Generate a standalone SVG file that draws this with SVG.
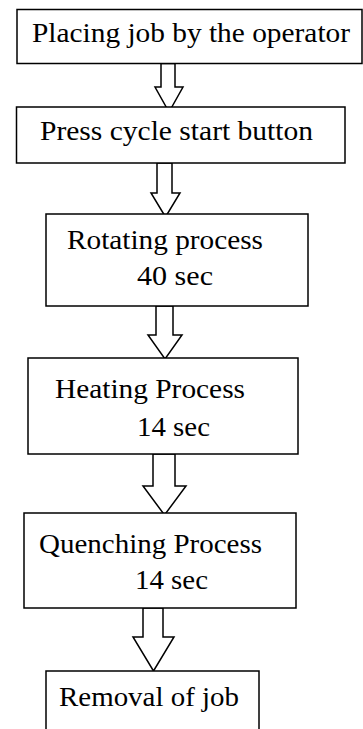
<svg xmlns="http://www.w3.org/2000/svg" width="363" height="729" viewBox="0 0 363 729">
<style>
.box{fill:#fff;stroke:#000;stroke-width:1.5}
.arr{fill:#fff;stroke:#000;stroke-width:1.5;stroke-linejoin:miter}
text{font-family:"Liberation Serif","Times New Roman",serif;font-size:28px;fill:#000}
</style>
<rect width="363" height="729" fill="#fff"/>
<g id="connectors">
<polygon class="arr" points="161,63.5 175,63.5 175,87 183,87 169,112 155,87 161,87"/>
<polygon class="arr" points="157,163 172,163 172,193 180,193 165.5,217 151,193 157,193"/>
<polygon class="arr" points="156,306 173,306 173,335 182,335 165,359 148,335 156,335"/>
<polygon class="arr" points="153,454 175,454 175,486 186,486 164.5,515 143,486 153,486"/>
<polygon class="arr" points="143,608 163,608 163,637 174,637 153.5,671 133,637 143,637"/>
</g>
<g id="n1">
<rect class="box" x="17" y="9.5" width="345" height="54"/>
<text x="32" y="42" textLength="318" lengthAdjust="spacingAndGlyphs">Placing job by the operator</text>
</g>
<g id="n2">
<rect class="box" x="16.5" y="107" width="328.5" height="56"/>
<text x="40" y="140" textLength="273" lengthAdjust="spacingAndGlyphs">Press cycle start button</text>
</g>
<g id="n3">
<rect class="box" x="46" y="214" width="262" height="92"/>
<text x="67" y="249" textLength="196" lengthAdjust="spacingAndGlyphs">Rotating process</text>
<text x="137" y="285" textLength="76" lengthAdjust="spacingAndGlyphs">40 sec</text>
</g>
<g id="n4">
<rect class="box" x="28" y="358" width="270" height="96"/>
<text x="55" y="398" textLength="190" lengthAdjust="spacingAndGlyphs">Heating Process</text>
<text x="137" y="436" textLength="73" lengthAdjust="spacingAndGlyphs">14 sec</text>
</g>
<g id="n5">
<rect class="box" x="24" y="513" width="272" height="95"/>
<text x="39" y="553" textLength="223" lengthAdjust="spacingAndGlyphs">Quenching Process</text>
<text x="135" y="589" textLength="73" lengthAdjust="spacingAndGlyphs">14 sec</text>
</g>
<g id="n6">
<rect class="box" x="46" y="671" width="213" height="70"/>
<text x="59" y="706" textLength="180" lengthAdjust="spacingAndGlyphs">Removal of job</text>
</g>
</svg>
